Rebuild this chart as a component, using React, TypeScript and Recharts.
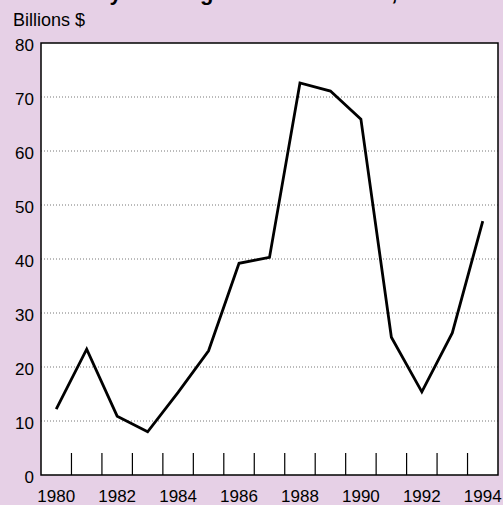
import React from 'react';
import { LineChart, Line, XAxis, YAxis, CartesianGrid, ReferenceArea } from 'recharts';

const years = [1980, 1981, 1982, 1983, 1984, 1985, 1986, 1987, 1988, 1989, 1990, 1991, 1992, 1993, 1994];
const billions = [12.2, 23.3, 10.9, 8.0, 15.3, 23.0, 39.2, 40.3, 72.6, 71.1, 65.9, 25.5, 15.4, 26.3, 47.0];
const yearTicks = [1980, 1982, 1984, 1986, 1988, 1990, 1992, 1994];
const minorTicks = [1980.5, 1981.5, 1982.5, 1983.5, 1984.5, 1985.5, 1986.5, 1987.5, 1988.5, 1989.5, 1990.5, 1991.5, 1992.5, 1993.5];
const valueTicks = [0, 10, 20, 30, 40, 50, 60, 70, 80];

const data = years.map((year, i) => ({ year, value: billions[i] }));
const xTicks = [...yearTicks, ...minorTicks].sort((a, b) => a - b);

const font = 'Liberation Sans, Arial, sans-serif';

// even years get a label, half years get a short mark standing up from the axis
const YearTick = (props: any) => {
  const { x, y, payload } = props;
  if (Number.isInteger(payload.value)) {
    return (
      <text x={x} y={y + 27} textAnchor="middle" fontSize={17} fontFamily={font} fill="#000">
        {payload.value}
      </text>
    );
  }
  return <line x1={x} x2={x} y1={y} y2={y - 22} stroke="#000" strokeWidth={1.2} />;
};

const ValueTick = (props: any) => {
  const { x, y, payload } = props;
  return (
    <text x={x} y={y + 8} textAnchor="end" fontSize={17} fontFamily={font} fill="#000">
      {payload.value}
    </text>
  );
};

export default function App() {
  return (
    <div style={{ position: 'absolute', left: 0, top: 0, width: 503, height: 505, background: '#e6d0e6', overflow: 'hidden', fontFamily: font }}>
      <svg width={503} height={20} style={{ position: 'absolute', left: 0, top: 0 }}>
        <text x={57} y={0} fontSize={22} fontWeight="bold" fill="#000" fontFamily={font}>
          Yearly Lending to Latin America, 1980–94
        </text>
      </svg>
      <div style={{ position: 'absolute', left: 13, top: 10, fontSize: 18, color: '#000' }}>Billions $</div>
      <LineChart width={503} height={505} data={data} margin={{ top: 43, right: 5, bottom: 0, left: 0 }}>
        <CartesianGrid horizontal vertical={false} fill="#fff" stroke="#777" strokeDasharray="1 2" horizontalValues={[10, 20, 30, 40, 50, 60, 70]} />
        <XAxis
          dataKey="year"
          type="number"
          domain={[1979.5, 1994.5]}
          ticks={xTicks}
          height={30}
          tickLine={false}
          axisLine={false}
          tickSize={0}
          tickMargin={0}
          interval={0}
          tick={<YearTick />}
        />
        <YAxis
          domain={[0, 80]}
          ticks={valueTicks}
          width={41}
          tickLine={false}
          axisLine={false}
          tickSize={0}
          tickMargin={7}
          interval={0}
          tick={<ValueTick />}
        />
        <ReferenceArea x1={1979.5} x2={1994.5} y1={0} y2={80} fill="none" stroke="#000" strokeWidth={1.5} />
        <Line
          type="linear"
          dataKey="value"
          stroke="#000"
          strokeWidth={2.8}
          dot={false}
          isAnimationActive={false}
        />
      </LineChart>
    </div>
  );
}
